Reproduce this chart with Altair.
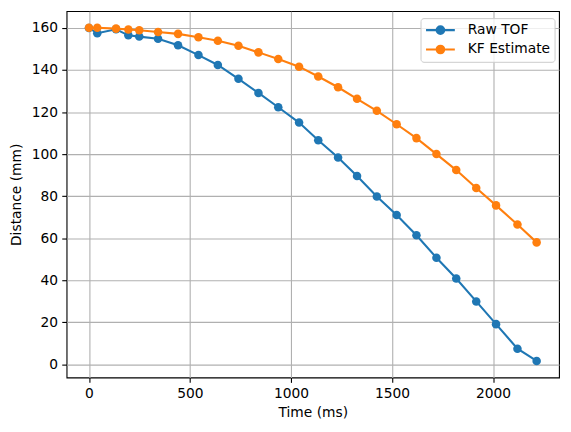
import altair as alt
import pandas as pd

times = [0, 41, 134, 195, 249, 342, 441, 542, 638, 740, 839, 937, 1040,
         1135, 1233, 1327, 1425, 1523, 1621, 1720, 1818, 1917, 2015, 2121, 2216]
raw_tof = [160.0, 157.5, 159.4, 156.5, 155.9, 154.9, 151.8, 147.1, 142.4, 135.8,
           129.1, 122.3, 115.0, 106.6, 98.4, 89.6, 79.8, 71.0, 61.4, 50.7,
           40.8, 29.9, 19.1, 7.4, 1.6]
kf_est = [160.1, 160.1, 159.7, 159.3, 158.9, 158.1, 157.2, 155.6, 153.9, 151.5,
          148.4, 145.2, 141.6, 136.9, 131.8, 126.3, 120.6, 114.2, 107.6, 100.0,
          92.4, 83.9, 75.6, 66.5, 58.0]
series_names = ["Raw TOF", "KF Estimate"]
series_colors = ["#1f77b4", "#ff7f0e"]
x_ticks = [0, 500, 1000, 1500, 2000]
y_ticks = [0, 20, 40, 60, 80, 100, 120, 140, 160]

rows = []
for t, v in zip(times, raw_tof):
    rows.append({"t": t, "d": v, "s": series_names[0]})
for t, v in zip(times, kf_est):
    rows.append({"t": t, "d": v, "s": series_names[1]})
df = pd.DataFrame(rows)

FONT = "DejaVu Sans"
FS = 13.9
LW = 2.08
# legend symbol: line with a circle, nominal size 14 px (unit = 7 px)
cx, r, x0, x1 = 1.136, 0.546, -0.936, 3.207
SYM = (f"M{x0},0L{x1},0M{cx - r},0A{r},{r},0,1,1,{cx + r},0"
       f"A{r},{r},0,1,1,{cx - r},0Z")

legend = alt.Legend(
    orient="none", legendX=356.5, legendY=7, title=None,
    symbolType=SYM, symbolSize=196, symbolStrokeWidth=LW,
    labelFont=FONT, labelFontSize=FS, labelColor="black",
    labelOffset=27, rowPadding=2.5, padding=3.6,
    fillColor="rgba(255,255,255,0.8)", strokeColor="#cccccc", cornerRadius=3,
)

color = alt.Color("s:N", scale=alt.Scale(domain=series_names, range=series_colors),
                  legend=legend, sort=series_names)

xenc = alt.X("t:Q", scale=alt.Scale(domain=[-110.8, 2326.8], nice=False, zero=False),
             axis=alt.Axis(values=x_ticks, format="d", title="Time (ms)", titleY=35.3,
                           titleBaseline="middle"))
yenc = alt.Y("d:Q", scale=alt.Scale(domain=[-6.3, 168.0], nice=False, zero=False),
             axis=alt.Axis(values=y_ticks, format="d", title="Distance (mm)", titleX=-50.3,
                           titleBaseline="middle", titleAngle=270))

layers = []
for name in series_names:
    base = alt.Chart(df).transform_filter(alt.datum.s == name)
    layers.append(base.mark_line(strokeWidth=LW).encode(x=xenc, y=yenc, color=color, order="t:Q"))
    layers.append(base.mark_point(filled=True, size=74, opacity=1, shape="circle").encode(
        x=xenc, y=yenc, color=color))

chart = alt.layer(*layers).properties(
    width=496, height=369,
    autosize=alt.AutoSizeParams(type="none"),
    padding={"left": 59, "top": 1.7, "right": 4, "bottom": 45},
    background="white",
).configure_view(stroke="black", strokeWidth=1.11).configure_axis(
    grid=True, gridColor="#b0b0b0", gridWidth=1.11, gridOpacity=1,
    domain=False, tickColor="black", tickWidth=1.11, tickSize=4.86,
    labelPadding=4.2, labelFont=FONT, labelFontSize=FS, labelColor="black",
    titleFont=FONT, titleFontSize=FS, titleFontWeight="normal", titleColor="black",
    titlePadding=0,
)

chart.save("out.html", embed_options={"renderer": "svg", "actions": False})
